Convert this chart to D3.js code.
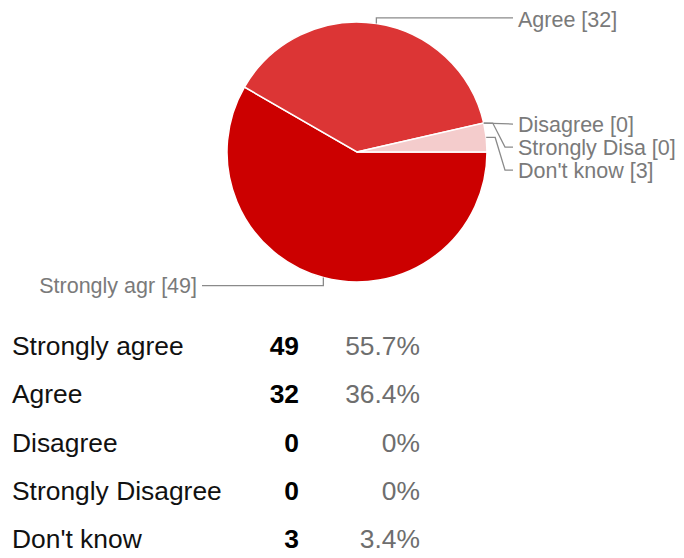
<!DOCTYPE html>
<html>
<head>
<meta charset="utf-8">
<script src="https://cdn.jsdelivr.net/npm/d3@7/dist/d3.min.js"></script>
<style>
  html, body { margin: 0; padding: 0; background: #fff; }
  svg { display: block; font-family: "Liberation Sans", Arial, sans-serif; }
</style>
</head>
<body>
<svg id="chart" width="684" height="558"></svg>
<script>
// ---- data ----
const categories = ["Strongly agree", "Agree", "Disagree", "Strongly Disagree", "Don't know"];
const pieLabels  = ["Strongly agr", "Agree", "Disagree", "Strongly Disa", "Don't know"];
const counts     = [49, 32, 0, 0, 3];
const percents   = [55.7, 36.4, 0, 0, 3.4];
const colors     = ["#cc0000", "#dc3535", "#e06666", "#ea9999", "#f4cccc"];

// ---- layout ----
const svg = d3.select("#chart");
const cx = 357, cy = 152, r = 130;

const pie = d3.pie().sort(null).value(d => d)
  .startAngle(Math.PI / 2).endAngle(Math.PI / 2 + 2 * Math.PI);
const arcs = pie(counts);
const arc = d3.arc().innerRadius(0).outerRadius(r);

const g = svg.append("g").attr("transform", `translate(${cx},${cy})`);
g.selectAll("path.slice")
  .data(arcs.filter(a => a.value > 0))
  .join("path")
  .attr("class", "slice")
  .attr("d", arc)
  .attr("fill", d => colors[d.index])
  .attr("stroke", "#fff")
  .attr("stroke-width", 1.5);

// leader lines & labels
function anchor(a) {
  const m = (a.startAngle + a.endAngle) / 2;
  return [cx + r * Math.sin(m), cy - r * Math.cos(m)];
}
const rightX = 513, textGap = 5;
const labelsG = svg.append("g");
const lineColor = "#8a8a8a", textColor = "#7a7a7a";

arcs.forEach((a, i) => {
  const [ax, ay] = anchor(a);
  let pts, tx, ty, anchorSide;
  if (i === 0) {
    const ly = ay + 8;
    pts = [[ax, ay], [ax, ly], [rightX - 311, ly]];
    tx = rightX - 316; ty = ly; anchorSide = "end";
  } else if (i === 1) {
    const ly = ay - 5.5;
    pts = [[ax, ay], [ax, ly], [rightX, ly]];
    tx = rightX + textGap; ty = ly + 2; anchorSide = "start";
  } else {
    const baseY = anchor(arcs[2])[1] + 1;
    const ly = baseY + (i - 2) * 23;
    if (i === 2) {
      pts = [[ax, ay], [rightX, ly]];
    } else {
      pts = [[ax, ay], [ax + 9, ay], [rightX - 8, ly], [rightX, ly]];
    }
    tx = rightX + textGap; ty = ly; anchorSide = "start";
  }
  labelsG.append("path")
    .attr("d", d3.line()(pts))
    .attr("fill", "none")
    .attr("stroke", lineColor)
    .attr("stroke-width", 1.3);
  labelsG.append("text")
    .attr("x", tx).attr("y", ty)
    .attr("dy", "0.35em")
    .attr("text-anchor", anchorSide)
    .attr("font-size", 21.5)
    .attr("fill", textColor)
    .text(`${pieLabels[i]} [${counts[i]}]`);
});

// ---- table ----
const rowY = d3.scalePoint().domain(categories).range([355, 548]);
const tbl = svg.append("g").attr("font-size", 26.4);
categories.forEach((c, i) => {
  const y = rowY(c);
  tbl.append("text").attr("x", 12).attr("y", y).attr("fill", "#111").text(c);
  tbl.append("text").attr("x", 299).attr("y", y).attr("text-anchor", "end")
    .attr("font-weight", "bold").attr("fill", "#000").text(counts[i]);
  tbl.append("text").attr("x", 420).attr("y", y).attr("text-anchor", "end")
    .attr("fill", "#6e6e6e").text(percents[i] + "%");
});
</script>
</body>
</html>
